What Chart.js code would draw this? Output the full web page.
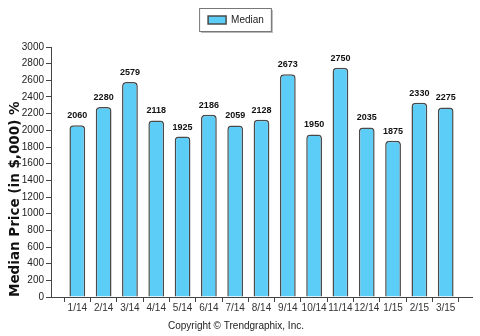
<!DOCTYPE html>
<html>
<head>
<meta charset="utf-8">
<script src="https://cdn.jsdelivr.net/npm/chart.js@4/dist/chart.umd.min.js"></script>
<style>
  html, body { margin: 0; padding: 0; background: #fff; }
  #wrap { width: 480px; height: 336px; }
</style>
</head>
<body>
<div id="wrap"><canvas id="medianChart"></canvas></div>
<script>
const months = ['1/14','2/14','3/14','4/14','5/14','6/14','7/14','8/14','9/14','10/14','11/14','12/14','1/15','2/15','3/15'];
const medianPrice = [2060, 2280, 2579, 2118, 1925, 2186, 2059, 2128, 2673, 1950, 2750, 2035, 1875, 2330, 2275];
const yTicks = [0, 200, 400, 600, 800, 1000, 1200, 1400, 1600, 1800, 2000, 2200, 2400, 2600, 2800, 3000];

// blank slots at both ends so the bars sit a full step in from the axis ends
const labels = [''].concat(months, ['']);
const values = [null].concat(medianPrice, [null]);

// value above every bar
const barValues = {
    id: 'barValues',
    afterDatasetsDraw(chart) {
        const ctx = chart.ctx;
        const meta = chart.getDatasetMeta(0);
        ctx.save();
        ctx.font = 'bold 9px "Liberation Sans", Arial, sans-serif';
        ctx.fillStyle = '#111';
        ctx.textAlign = 'center';
        ctx.textBaseline = 'bottom';
        meta.data.forEach((bar, i) => {
            const v = values[i];
            if (v == null) return;
            ctx.fillText(String(v), bar.x, bar.y - 5);
        });
        ctx.restore();
    }
};

// framed legend with a soft drop shadow; also leaves some room under it
const legendFrame = {
    id: 'legendFrame',
    afterInit(chart) {
        const lg = chart.legend;
        if (!lg) return;
        const fit = lg.fit;
        lg.fit = function () {
            fit.call(this);
            this.height += 12;
        };
    },
    beforeDraw(chart) {
        const lg = chart.legend;
        if (!lg || !lg.legendHitBoxes.length) return;
        const hb = lg.legendHitBoxes[0];
        const x = hb.left - 9, y = hb.top - 7, w = hb.width + 16, h = hb.height + 13;
        const ctx = chart.ctx;
        ctx.save();
        ctx.fillStyle = '#b8b8b8';
        ctx.fillRect(x + 2, y + 2, w, h);
        ctx.fillStyle = '#fff';
        ctx.fillRect(x, y, w, h);
        ctx.strokeStyle = '#777';
        ctx.lineWidth = 1;
        ctx.strokeRect(x + 0.5, y + 0.5, w, h);
        ctx.restore();
    }
};

const ctx = document.getElementById('medianChart').getContext('2d');
new Chart(ctx, {
    type: 'bar',
    data: {
        labels,
        datasets: [{
            label: 'Median',
            data: values,
            backgroundColor: '#5ccdf7',
            borderColor: '#4a4a4a',
            borderWidth: 1.5,
            borderRadius: 4,
            borderSkipped: 'bottom',
            barPercentage: 0.6,
            categoryPercentage: 1
        }]
    },
    options: {
        responsive: true,
        maintainAspectRatio: false,
        animation: false,
        layout: { padding: { left: 0, right: 8, top: 0, bottom: 0 } },
        plugins: {
            legend: {
                position: 'top',
                labels: {
                    boxWidth: 18,
                    boxHeight: 8,
                    padding: 15,
                    color: '#222',
                    font: { family: '"Liberation Sans", Arial, sans-serif', size: 10 }
                }
            },
            title: {
                display: true,
                position: 'bottom',
                text: 'Copyright \u00A9 Trendgraphix, Inc.',
                color: '#222',
                font: { family: '"Liberation Sans", Arial, sans-serif', size: 10, weight: 'normal' },
                padding: { top: 6, bottom: 4 }
            },
            tooltip: { enabled: false }
        },
        scales: {
            x: {
                offset: false,
                grid: { drawOnChartArea: false, tickLength: 5, color: '#444' },
                border: { color: '#444' },
                ticks: {
                    autoSkip: false,
                    maxRotation: 0,
                    padding: 0,
                    color: '#333',
                    font: { family: '"Liberation Sans", Arial, sans-serif', size: 10 }
                }
            },
            y: {
                min: 0,
                max: 3000,
                afterBuildTicks: scale => { scale.ticks = yTicks.map(v => ({ value: v })); },
                afterFit: scale => { scale.width = 51; },
                grid: { drawOnChartArea: false, tickLength: 5, color: '#444' },
                border: { color: '#444' },
                ticks: {
                    padding: 2,
                    color: '#222',
                    callback: v => String(v),
                    font: { family: '"Liberation Sans", Arial, sans-serif', size: 10 }
                },
                title: {
                    display: true,
                    align: 'start',
                    text: 'Median Price (in $,000) %',
                    color: '#111',
                    font: { family: '"DejaVu Sans", Verdana, sans-serif', size: 13.5, weight: 'bold' },
                    padding: { top: 7, bottom: 0 }
                }
            }
        }
    },
    plugins: [legendFrame, barValues]
});
</script>
</body>
</html>
